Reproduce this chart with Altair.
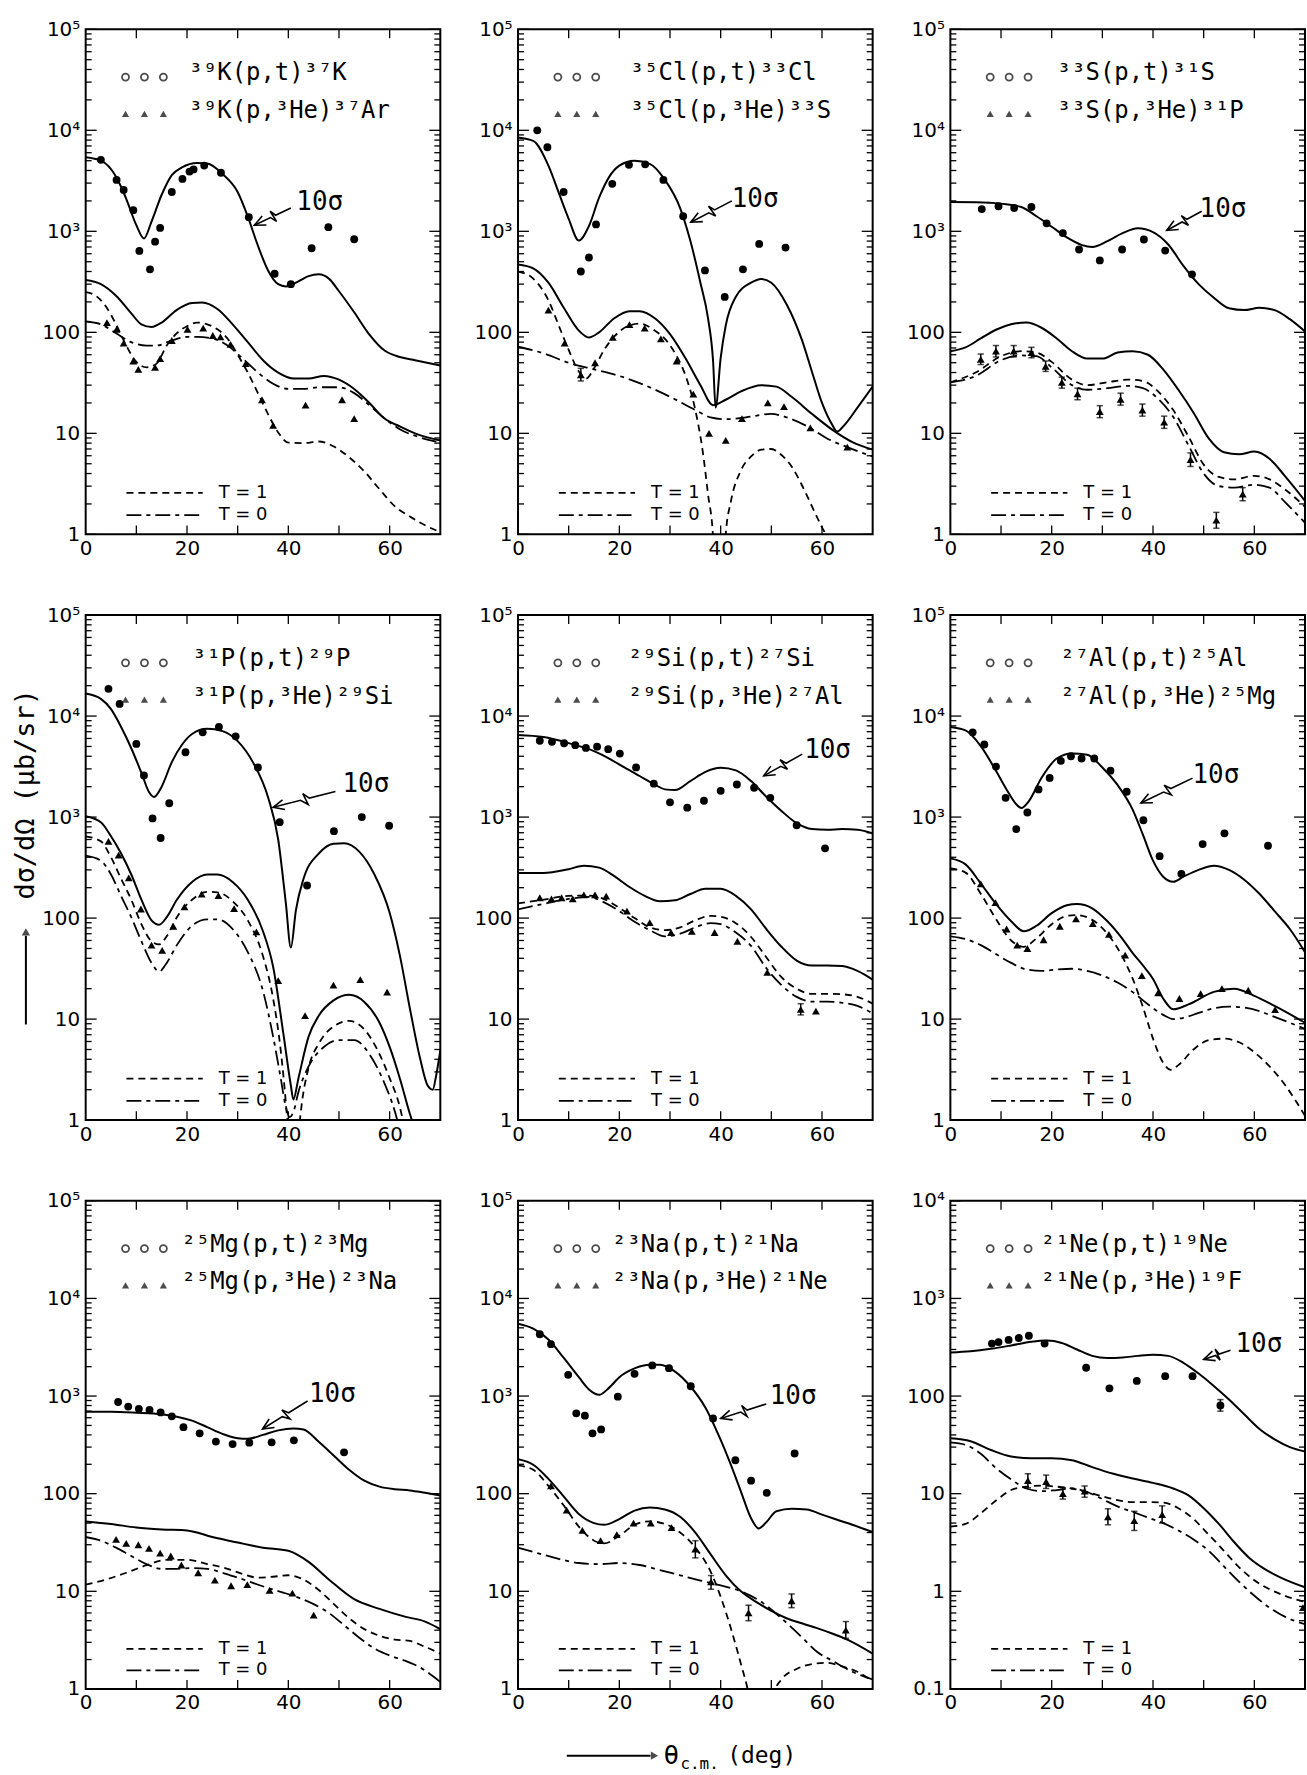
import math
import altair as alt
import pandas as pd

# ------------------------------------------------------------------ data
# each curve: list of (theta_cm [deg], dsigma/dOmega [mub/sr])

# ---- 39K
K39_SIGMA = [(0,5400),(3,5000),(6,3470),(8,2100),(10,1150),(11.5,850),(13,1250),(15,2300),(17,3600),(19,4300),(22,4750),(24,4700),(27,3700),(30,2450),(32,1400),(34,720),(36,410),(38,300),(39.5,285),(42,320),(44,360),(46,375),(48,340),(50,255),(53,158),(56,95),(59,66),(62,57),(65,53),(70,47)]
K39_TOTAL = [(0,330),(3,300),(6,230),(9,154),(11,120),(13,113),(15,125),(18,167),(21,195),(23,197),(26,170),(29,120),(32,80),(35,53),(38,40),(41,35),(44,35),(47,37),(50,34),(53,27.5),(56,20),(59,14),(62,11.7),(65,10),(70,8.5)]
K39_T1 = [(0,250),(2,230),(4,180),(6,120),(8,74),(10,51),(12,45),(14,49),(16,74),(18,98),(20,115),(22,125),(24,120),(26,107),(28,87),(30,60),(32,40),(34,25),(36,15.5),(38,10.2),(40,8.1),(43,8),(46,8.3),(49,7.4),(52,5.8),(55,4.2),(58,2.8),(61,1.9),(64,1.5),(67,1.23),(70,1.05)]
K39_T0 = [(0,128),(3,120),(6,98),(9,80),(12,74),(14,74),(17,83),(20,90),(22,90),(25,87),(28,74),(31,55),(34,40),(37,31),(40,27.5),(43,27.5),(46,28.6),(50,28.6),(53,25),(56,19),(59,14),(62,11),(66,9.1),(70,8.1)]
K39_PT = [(3,5100),(6.1,3230),(7.5,2570),(9.4,1620),(10.6,640),(12.7,420),(13.7,790),(14.7,1080),(17,2450),(19.1,3300),(20.5,3900),(21.3,4100),(23.4,4470),(26.7,3800),(32.2,1380),(37.3,380),(40.5,300),(44.6,680),(47.9,1100),(53,835)]
K39_HE = [(4.2,125),(6.1,107),(7.5,78),(9.4,52),(10.4,43),(13.7,45),(14.7,55),(17,83),(20.1,107),(23.2,110),(25.1,93),(26.6,90),(28.6,76),(31.6,49),(34.8,21.5),(37,12),(43.4,19),(50.6,21.5),(53,14)]
K39_ERR = []
K39_NOTE = [(46.2,1950),(40.5,1700),(33.3,1150)]

# ---- 35Cl
CL35_SIGMA = [(0,8500),(3,7850),(6,4470),(8,2440),(10,1330),(12,810),(14,1130),(16,2150),(18,3460),(20,4470),(23,5000),(26,4650),(29,3230),(32,1700),(34,810),(36,310),(37.5,138),(38.5,52),(39,18),(40,56),(41,117),(43,225),(46,310),(48,338),(50,310),(53,190),(56,85),(58,41),(60,20),(62,12.2),(63,10.4),(64.5,12.2),(67,18),(70,29)]
CL35_TOTAL = [(0,470),(3,430),(6,310),(9,176),(12,104),(14,89),(16,100),(19,138),(22,162),(24,162),(27,138),(30,96),(33,56),(36,30),(38.5,19),(41,21.5),(44,26),(48,30),(51,29),(54,23),(58,15.6),(62,10.9),(66,8.2),(70,6.9)]
CL35_T1 = [(0,400),(3,340),(6,208),(8,118),(10,67),(12,41),(13.5,35),(15,44),(17,67),(19,91),(22,117),(24,122),(27,104),(29,86),(31,62),(33,38),(35,17),(36.5,6.4),(37.5,2.5),(38.5,0.93),(39.5,0.05),(40.5,0.2),(41,1.0),(42,2.1),(44,4.3),(46,5.9),(48,6.9),(50,7.0),(52,6.1),(54,4.7),(56,3.1),(58,1.9),(60,1.17),(61,0.92),(62,0.5)]
CL35_T0 = [(0,72),(5,62),(10,50),(15,43),(20,37),(25,30),(30,23),(35,17),(38,14.4),(41,13.8),(45,14.4),(50,15.6),(53,14.4),(57,11.8),(61,8.9),(65,7.3),(70,5.9)]
CL35_PT = [(3.8,10000),(5.8,6800),(9,2450),(12.4,400),(14,550),(15.4,1170),(18.6,2950),(21.9,4550),(25.1,4600),(28.7,3230),(32.6,1410),(36.9,410),(40.8,224),(44.4,420),(47.6,750),(52.8,690)]
CL35_HE = [(6,166),(9.2,78),(12.4,38),(15.2,50),(18.7,89),(22,119),(25,110),(28.2,86),(31.3,52),(34.6,24.5),(37.7,10),(41,8.5),(44.2,14),(49.3,20),(52.5,18.4),(57.7,11.3),(65,7.3)]
CL35_ERR = [(12.4,33,44)]
CL35_NOTE = [(46.8,2100),(42.2,2000),(34.1,1230)]

# ---- 33S
S33_SIGMA = [(0,1950),(5,1940),(10,1880),(14,1740),(17,1410),(20,1110),(23,870),(26,730),(28,700),(31,800),(34,960),(37,1070),(40,980),(43,740),(46,455),(49,300),(52,220),(55,173),(58,166),(61,175),(64,166),(67,135),(70,102)]
S33_TOTAL = [(0,65),(3,71),(6,87),(9,106),(12,120),(15,125),(18,111),(21,87),(24,65),(27,55),(30,55),(33,63),(36,65),(39,60),(42,43),(45,27),(48,16),(51,8.9),(54,6.5),(57,6.2),(60,6.6),(63,5.6),(66,3.8),(70,2.15)]
S33_T1 = [(0,32),(5,40),(10,58),(14,65),(17,63),(20,51),(24,34),(27,30),(31,32),(35,34),(38,33),(41,26),(44,17),(47,9.3),(50,4.9),(53,3.7),(56,3.5),(60,3.8),(63,3.5),(66,2.8),(70,1.87)]
S33_T0 = [(0,32),(5,37),(10,53),(14,59),(17,58),(20,45),(24,30),(27,27),(31,28),(35,29.5),(38,28),(41,22),(44,14.5),(47,7.6),(50,4.0),(53,3.0),(56,2.9),(60,3.1),(63,2.9),(66,2.1),(70,1.3)]
S33_PT = [(6.2,1660),(9.5,1770),(12.6,1700),(16,1740),(19,1200),(22.2,960),(25.4,660),(29.5,515),(33.9,660),(38.2,830),(42.4,645),(47.7,375)]
S33_HE = [(6,54),(9,65),(12.5,65),(16,63),(18.8,46),(22,32),(25.1,24.6),(29.5,16.4),(33.6,21.7),(37.9,17),(42.2,12.9),(47.4,5.5),(52.5,1.38),(57.7,2.5)]
S33_ERR = [(6,48,61),(9,57,74),(12.5,57,74),(16,56,71),(18.8,41,52),(22,28,36),(25.1,21.5,28),(29.5,14.3,18.8),(33.6,19,25),(37.9,14.8,19.5),(42.2,11.2,14.8),(47.4,4.7,6.4),(52.5,1.15,1.65),(57.7,2.15,2.9)]
S33_NOTE = [(53.8,1660),(49.6,1580),(42.7,1020)]

# ---- 31P
P31_SIGMA = [(0,16700),(3,14800),(5,11700),(7,7800),(9,4800),(11,2740),(12.5,1770),(13.5,1580),(15,2000),(17,3500),(19,5200),(21,6650),(24,7500),(27,7100),(30,5650),(33,3500),(36,1570),(38,600),(39.5,142),(40.5,51),(41.5,120),(43,245),(46,435),(49,545),(51,550),(54,455),(57,270),(60,113),(62,43),(64,12.7),(66,4.1),(67.5,2.2),(68.5,2.0),(69.2,2.8),(70,4.9)]
P31_TOTAL = [(0,1020),(3,890),(5,645),(7,435),(9,270),(11,152),(13,95),(14.5,86),(16,102),(18,152),(21,228),(24,270),(26,270),(29,228),(32,152),(35,74),(37,33),(39,7.3),(40.5,2.2),(41,1.6),(42,2.6),(44,6.7),(46,10.8),(49,15.4),(52,17.4),(55,14.8),(58,9.2),(60,5.3),(62,2.6),(64,1.15),(65,0.8),(66,0.5)]
P31_T1 = [(0,645),(3,575),(5,400),(7,245),(9,152),(11,87),(13,59),(14.5,55),(16,66),(18,102),(21,152),(24,182),(26,180),(29,147),(32,95),(35,42),(37,16),(38.5,4.9),(39.5,1.5),(40,0.7),(41,0.05),(42,0.7),(42.5,1.25),(44,3.3),(46,5.7),(49,8.5),(52,9.6),(55,7.9),(58,4.5),(60,2.6),(62,1.35),(63,0.8),(64,0.4)]
P31_T0 = [(0,415),(3,370),(5,270),(7,165),(9,102),(11,59),(13,36),(14.5,29.5),(16,36),(18,54),(21,84),(24,97),(26,97),(29,78),(32,46),(35,19),(37,6.7),(38.5,2.6),(39.5,1.35),(40.3,1.07),(41,1.2),(42,1.9),(44,3.4),(47,5.3),(50,6.2),(53,6.2),(56,4.5),(59,2.3),(61,1.23),(62,0.8),(63,0.5)]
P31_PT = [(4.5,18600),(6.7,13200),(10,5300),(11.5,2580),(13.2,970),(14.8,620),(16.5,1370),(19.7,4380),(23.1,6900),(26.3,7800),(29.6,6300),(34,3100),(38.3,890),(43.7,210),(49,725),(54.5,1000),(59.9,820)]
P31_HE = [(4.5,575),(6.5,420),(8.5,250),(10.9,123),(13,54),(15.1,48),(17.3,83),(19.5,129),(22.9,173),(26.2,167),(29.3,124),(33.7,73),(38,24),(43.3,10.8),(48.9,21.7),(54.2,24.6),(59.5,18.5)]
P31_ERR = []
P31_NOTE = [(55.3,2140),(49.3,1790),(37.0,1250)]

# ---- 29Si
SI29_SIGMA = [(0,6500),(5,6200),(10,5400),(15,4500),(18,3800),(21,3100),(24,2550),(27,2100),(29,1880),(31,1850),(34,2270),(37,2800),(40,3070),(43,2900),(46,2270),(49,1590),(52,1150),(55,870),(58,760),(61,750),(64,760),(67,750),(70,690)]
SI29_TOTAL = [(0,280),(5,280),(10,305),(13,330),(16,316),(19,260),(22,203),(25,166),(28,147),(31,150),(34,173),(37,195),(40,195),(43,166),(46,122),(49,78),(52,52),(55,38),(58,34),(61,34),(64,33.5),(67,30),(70,24.6)]
SI29_T1 = [(0,140),(5,152),(10,166),(14,167),(17,154),(20,126),(23,100),(26,81),(29,76),(32,81),(35,95),(38,105),(40,103),(43,89),(46,65),(49,41),(52,26),(55,20),(58,17.8),(61,17.8),(64,17.6),(67,16.6),(70,14.2)]
SI29_T0 = [(0,122),(5,138),(10,155),(14,162),(17,143),(20,117),(23,92),(26,76),(29,66),(32,70),(35,81),(38,89),(40,87),(43,72),(46,53),(49,32),(52,21.7),(55,16.6),(58,14.9),(61,14.9),(64,14.5),(67,13.5),(70,11.4)]
SI29_PT = [(4.3,5700),(6.7,5560),(9.1,5380),(11.3,5150),(13.4,4840),(15.6,4980),(17.8,4700),(20.1,4250),(23.3,3100),(26.8,2140),(30,1400),(33.4,1240),(36.7,1450),(40,1820),(43.2,2100),(46.6,1950),(49.8,1550),(55,830),(60.6,490)]
SI29_HE = [(4.3,159),(6.6,155),(8.6,159),(10.8,155),(13,170),(15.2,170),(17.4,165),(21.5,117),(26,90),(30.2,72),(34.3,74),(38.8,72),(43.3,59),(49.2,29),(55.8,12.5),(58.8,12)]
SI29_ERR = [(55.8,11,14.2)]
SI29_NOTE = [(61.1,4650),(56.1,4200),(48.5,2560)]

# ---- 27Al
AL27_SIGMA = [(0,7800),(3,7200),(6,5040),(9,2870),(11,1910),(13,1340),(14,1230),(15.5,1440),(18,2450),(21,3800),(24,4270),(27,4140),(30,3100),(33,2080),(36,1180),(38,670),(40,370),(42,257),(44,229),(46,257),(49,300),(52,330),(55,300),(58,240),(61,174),(64,117),(67,78),(70,46)]
AL27_TOTAL = [(0,390),(3,340),(6,220),(9,138),(12,93),(14.5,74),(17,84),(20,112),(23,134),(25,138),(28,125),(31,93),(34,62),(36,45),(38,34),(40,25),(42,16),(44,12.5),(47,14),(52,18.6),(56,20),(60,17),(64,13.5),(70,9.2)]
AL27_T1 = [(0,310),(3,282),(6,174),(9,98),(12,60),(14.5,52),(17,63),(20,87),(23,105),(25,107),(28,96),(31,70),(34,41),(36,25),(38,13.2),(40,6.4),(42,3.7),(43.5,3.15),(45,3.5),(48,5.0),(51,6.2),(54,6.4),(57,5.9),(60,4.7),(63,3.4),(66,2.25),(68,1.6),(70,1.1)]
AL27_T0 = [(0,66),(3,62),(6,54),(9,44),(12,36),(15,31),(18,30),(21,31),(24,31.5),(27,30),(30,27),(33,23),(36,18.5),(39,14),(42,11),(44,10),(46,10.3),(49,11.5),(52,12.8),(55,13.3),(58,13),(61,12),(64,10.5),(67,9.2),(70,8)]
AL27_PT = [(4.4,6900),(6.7,5230),(9,3160),(10.9,1550),(13,760),(15.2,1110),(17.4,1880),(19.6,2440),(21.8,3600),(23.8,4000),(25.9,3800),(28.4,3800),(31.6,2880),(34.8,1780),(38.1,930),(41.3,410),(45.6,274),(49.8,540),(54.1,690),(62.7,520)]
AL27_HE = [(6,218),(8.9,142),(11.1,78),(13.2,54),(15.2,50),(18.4,61),(21.6,83),(24.8,98),(28.1,88),(31.3,69),(34.5,43),(37.8,27),(41,18.2),(45.2,16),(49.4,17.9),(53.6,20),(58.8,19.3),(64.1,12.4)]
AL27_ERR = []
AL27_NOTE = [(52.4,2620),(47.8,2430),(37.6,1380)]

# ---- 25Mg
MG25_SIGMA = [(0,690),(5,690),(10,675),(15,650),(18,615),(21,560),(24,480),(27,410),(30,370),(32,365),(35,400),(38,445),(41,465),(43,455),(46,340),(49,245),(52,176),(55,136),(58,118),(61,111),(64,108),(67,102),(70,96)]
MG25_TOTAL = [(0,52),(5,49),(10,45),(15,43),(20,42),(25,36),(30,31.6),(35,28),(40,26),(44,20),(48,13.2),(53,8.3),(58,6.6),(63,5.5),(67,4.9),(70,4.1)]
MG25_T1 = [(0,11.7),(4,13.2),(8,15.5),(12,18.5),(16,21),(20,21),(24,19),(28,17),(31,15),(34,13.8),(37,14.1),(40,14.6),(43,13.2),(46,10.3),(49,7.4),(52,5.3),(55,4.1),(58,3.5),(61,3.2),(64,3.1),(67,2.7),(70,2.3)]
MG25_T0 = [(0,36),(3,33),(6,28),(9,23),(12,19),(15,17),(18,17),(21,17.3),(24,17),(27,15.5),(30,13.8),(33,12.2),(36,10.8),(39,9.7),(42,8.6),(45,7.4),(48,6.0),(51,4.5),(54,3.35),(57,2.6),(60,2.2),(63,1.95),(66,1.66),(70,1.18)]
MG25_PT = [(6.4,870),(8.4,780),(10.5,740),(12.6,720),(14.8,680),(17,620),(19.3,480),(22.5,415),(25.7,342),(29,322),(32.3,333),(36.7,336),(41.1,352),(51,265)]
MG25_HE = [(6,34),(8,31),(10.4,30),(12.5,27.5),(14.7,24.6),(16.8,23),(18.9,18.6),(22.2,15.5),(25.5,13),(28.7,11.4),(31.9,11.7),(36.3,10.2),(40.8,9.6),(45,5.7)]
MG25_ERR = []
MG25_NOTE = [(48.7,1050),(43.8,890),(34.9,460)]

# ---- 23Na
NA23_SIGMA = [(0,5500),(3,4900),(6,3800),(9,2470),(12,1560),(14,1170),(16,1030),(18,1220),(20,1560),(23,1920),(26,2090),(28,2090),(31,1780),(34,1260),(37,760),(40,355),(42,198),(44,105),(46,56),(47.5,44),(49,51),(51,66),(54,70),(57,69),(60,61),(63,54),(66,48),(70,40.5)]
NA23_TOTAL = [(0,225),(3,198),(6,142),(9,94),(12,62),(15,50),(17,48),(20,55),(23,67),(26,72),(29,69),(32,58),(35,40),(38,24),(41,14.6),(44,10),(47,7.8),(50,6.3),(53,5.3),(56,4.7),(59,4.2),(62,3.7),(65,3.2),(70,2.3)]
NA23_T1 = [(0,195),(3,176),(6,120),(9,76),(12,46),(15,33),(17,31),(20,37),(23,48),(26,52),(29,49),(32,40),(35,28),(38,16),(40,8.8),(42,4.2),(44,1.8),(45.5,0.9),(47,0.3),(48,0.08),(49,0.3),(50.5,0.9),(52,1.25),(55,1.6),(58,1.8),(61,1.85),(64,1.7),(67,1.5),(70,1.2)]
NA23_T0 = [(0,28),(4,24.5),(8,21.5),(12,19.5),(16,19),(20,19.5),(24,18.6),(28,16.5),(32,14.6),(36,12.9),(40,11.5),(44,10),(48,7.8),(52,5.3),(56,3.4),(59,2.4),(62,1.95),(66,1.5),(70,1.25)]
NA23_PT = [(4.3,4300),(6.5,3400),(9.9,1650),(11.5,665),(13.2,630),(14.7,415),(16.4,455),(19.7,985),(23,1690),(26.5,2060),(29.8,1930),(34.1,1260),(38.5,590),(42.9,220),(46,136),(49.1,102),(54.6,258)]
NA23_HE = [(6.5,120),(9.6,68),(12.7,42),(16.3,33),(19.5,38),(22.8,50),(26.2,50),(30.3,45),(35,27),(38.1,12.5),(45.5,6),(54,8),(64.7,4)]
NA23_ERR = [(35,22,33),(38.1,10.5,14.5),(45.5,5,7.2),(54,6.8,9.4),(64.7,3.3,4.9)]
NA23_NOTE = [(54.3,1000),(49,830),(40,590)]

# ---- 21Ne
NE21_SIGMA = [(0,280),(4,288),(8,305),(12,330),(16,360),(19,370),(22,350),(25,300),(28,258),(31,245),(34,248),(37,258),(40,265),(43,258),(46,219),(49,170),(52,127),(55,92),(58,65),(61,46),(64,36),(67,30),(70,27)]
NE21_TOTAL = [(0,37),(4,34.5),(8,28),(12,24),(16,23),(20,23),(24,22),(28,18.7),(32,16.1),(36,14.3),(40,12.9),(44,11.3),(47,9.6),(50,7.1),(53,4.9),(56,3.2),(59,2.2),(62,1.7),(65,1.4),(70,1.1)]
NE21_T1 = [(0,4.6),(3,4.9),(6,6.3),(9,8.5),(12,10.9),(15,11.8),(18,12.1),(21,11.8),(24,11.3),(27,10.4),(30,9.4),(33,8.6),(36,8.2),(39,8.2),(42,8.1),(45,7.1),(48,5.5),(51,3.8),(54,2.6),(57,1.76),(60,1.3),(63,1.05),(66,0.9),(70,0.78)]
NE21_T0 = [(0,33.5),(3,31.6),(6,25.7),(9,18.3),(12,14),(15,11.3),(18,10.6),(21,10.9),(24,11.3),(27,10.4),(30,8.8),(33,7.4),(36,6.5),(39,5.7),(42,5.0),(45,4.2),(48,3.4),(51,2.6),(54,1.8),(57,1.25),(60,0.9),(63,0.68),(66,0.55),(70,0.46)]
NE21_PT = [(8.2,345),(9.5,357),(11.5,376),(13.5,393),(15.5,415),(18.6,345),(26.8,195),(31.4,120),(36.8,143),(42.4,160),(47.8,160),(53.3,80)]
NE21_HE = [(15.3,13.6),(18.9,13.3),(22.2,10),(26.5,10.6),(31.1,5.8),(36.3,5.3),(41.8,6.1),(69.6,0.68)]
NE21_ERR = [(15.3,11.5,16),(18.9,11.3,15.5),(22.2,8.8,11.5),(26.5,9.2,12),(31.1,4.8,7),(36.3,4.2,6.6),(41.8,5,7.5),(53.3,70,92)]
NE21_NOTE = [(60.9,345),(55.3,295),(50,237)]

LABELS_PT = ["³⁹K(p,t)³⁷K", "³⁵Cl(p,t)³³Cl", "³³S(p,t)³¹S",
             "³¹P(p,t)²⁹P", "²⁹Si(p,t)²⁷Si", "²⁷Al(p,t)²⁵Al",
             "²⁵Mg(p,t)²³Mg", "²³Na(p,t)²¹Na", "²¹Ne(p,t)¹⁹Ne"]
LABELS_HE = ["³⁹K(p,³He)³⁷Ar", "³⁵Cl(p,³He)³³S", "³³S(p,³He)³¹P",
             "³¹P(p,³He)²⁹Si", "²⁹Si(p,³He)²⁷Al", "²⁷Al(p,³He)²⁵Mg",
             "²⁵Mg(p,³He)²³Na", "²³Na(p,³He)²¹Ne", "²¹Ne(p,³He)¹⁹F"]
Y_LIMITS = [(1, 1e5)] * 8 + [(0.1, 1e4)]

PANELS = [
    (K39_SIGMA, K39_TOTAL, K39_T1, K39_T0, K39_PT, K39_HE, K39_ERR, K39_NOTE),
    (CL35_SIGMA, CL35_TOTAL, CL35_T1, CL35_T0, CL35_PT, CL35_HE, CL35_ERR, CL35_NOTE),
    (S33_SIGMA, S33_TOTAL, S33_T1, S33_T0, S33_PT, S33_HE, S33_ERR, S33_NOTE),
    (P31_SIGMA, P31_TOTAL, P31_T1, P31_T0, P31_PT, P31_HE, P31_ERR, P31_NOTE),
    (SI29_SIGMA, SI29_TOTAL, SI29_T1, SI29_T0, SI29_PT, SI29_HE, SI29_ERR, SI29_NOTE),
    (AL27_SIGMA, AL27_TOTAL, AL27_T1, AL27_T0, AL27_PT, AL27_HE, AL27_ERR, AL27_NOTE),
    (MG25_SIGMA, MG25_TOTAL, MG25_T1, MG25_T0, MG25_PT, MG25_HE, MG25_ERR, MG25_NOTE),
    (NA23_SIGMA, NA23_TOTAL, NA23_T1, NA23_T0, NA23_PT, NA23_HE, NA23_ERR, NA23_NOTE),
    (NE21_SIGMA, NE21_TOTAL, NE21_T1, NE21_T0, NE21_PT, NE21_HE, NE21_ERR, NE21_NOTE),
]

# ------------------------------------------------------------------ layout / style
W = 356
ROW_H = [507, 507, 490]
EXT = 75
LEG_TEXT_X = [0.29, 0.315, 0.30, 0.30, 0.31, 0.31, 0.27, 0.265, 0.255]
AX_FONT = "DejaVu Sans"
LET_FONT = "DejaVu Sans Mono"
INK = "black"
LABEL_EXPR = ("datum.value >= 99999 ? '10⁵' : datum.value >= 9999 ? '10⁴' : "
              "datum.value >= 999 ? '10³' : datum.value >= 0.99 ? format(datum.value, 'd') : '0.1'")


def df_xy(pts, name="c"):
    return pd.DataFrame({"x": [a for a, _ in pts], "y": [b for _, b in pts], "c": name})


def panel_chart(i):
    sigma, total, t1, t0, pt, he, err, note = PANELS[i]
    row = i // 3
    h = ROW_H[row]
    lo, hi = Y_LIMITS[i]
    llo, lhi = math.log10(lo), math.log10(hi)
    xs = alt.Scale(domain=[0, 70], nice=False, zero=False)
    ys = alt.Scale(type="log", domain=[lo, hi], nice=False)
    dlo, dhi = round(llo), round(lhi)
    decades = [10.0 ** d for d in range(dlo, dhi + 1)]
    minors = [k * 10.0 ** d for d in range(dlo, dhi) for k in range(2, 10)]
    yax = alt.Axis(values=decades, labelExpr=LABEL_EXPR, ticks=False, domain=False, grid=False,
                   labelFont=AX_FONT, labelFontSize=20, labelColor=INK, labelPadding=6,
                   minExtent=EXT, maxExtent=EXT, title=None)
    xax = alt.Axis(values=[0, 20, 40, 60], format="d", ticks=False, domain=False, grid=False,
                   labelFont=AX_FONT, labelFontSize=20, labelColor=INK, labelPadding=4,
                   title=None, labelFlush=False)

    def X(f):
        return alt.X(f"{f}:Q", scale=xs, axis=xax)

    def Y(f):
        return alt.Y(f"{f}:Q", scale=ys, axis=yax)

    def px(x):
        return x / 70.0 * W

    def py(v):
        return h * (lhi - math.log10(v)) / (lhi - llo)

    def inv(p):
        return (p[0] / W * 70.0, 10 ** (lhi - p[1] / h * (lhi - llo)))

    layers = []
    # inward ticks
    for vals, ln in ((decades, 11), (minors, 6)):
        d = pd.DataFrame({"v": vals})
        layers.append(alt.Chart(d).mark_rule(color=INK, strokeWidth=1.3).encode(
            y=Y("v"), x=alt.value(0), x2=alt.value(ln)))
        layers.append(alt.Chart(d).mark_rule(color=INK, strokeWidth=1.3).encode(
            y=Y("v"), x=alt.value(W), x2=alt.value(W - ln)))
    dx = pd.DataFrame({"v": [10, 20, 30, 40, 50, 60]})
    layers.append(alt.Chart(dx).mark_rule(color=INK, strokeWidth=1.3).encode(
        x=X("v"), y=alt.value(h), y2=alt.value(h - 9)))
    layers.append(alt.Chart(dx).mark_rule(color=INK, strokeWidth=1.3).encode(
        x=X("v"), y=alt.value(0), y2=alt.value(9)))

    # curves
    solid = pd.concat([df_xy(sigma, "sigma"), df_xy(total, "total")], ignore_index=True)
    layers.append(alt.Chart(solid).mark_line(color=INK, strokeWidth=2, interpolate="monotone", clip=True)
                  .encode(x=X("x"), y=Y("y"), detail="c:N"))
    layers.append(alt.Chart(df_xy(t1)).mark_line(color=INK, strokeWidth=1.8, strokeDash=[7, 5],
                                                 interpolate="monotone", clip=True)
                  .encode(x=X("x"), y=Y("y")))
    layers.append(alt.Chart(df_xy(t0)).mark_line(color=INK, strokeWidth=1.8, strokeDash=[15, 5, 4, 5],
                                                 interpolate="monotone", clip=True)
                  .encode(x=X("x"), y=Y("y")))

    # error bars
    if err:
        de = pd.DataFrame({"x": [e[0] for e in err], "lo": [e[1] for e in err], "hi": [e[2] for e in err]})
        layers.append(alt.Chart(de).mark_rule(color=INK, strokeWidth=1.5, clip=True).encode(
            x=X("x"), y=Y("lo"), y2="hi:Q"))
        dcap = pd.DataFrame({"x": list(de["x"]) * 2, "v": list(de["lo"]) + list(de["hi"])})
        layers.append(alt.Chart(dcap).mark_point(shape="stroke", size=40, color=INK, strokeWidth=1.5,
                                                 clip=True).encode(x=X("x"), y=Y("v")))

    # data points
    layers.append(alt.Chart(df_xy(pt)).mark_point(shape="circle", filled=True, size=62, color=INK,
                                                  opacity=1, clip=True).encode(x=X("x"), y=Y("y")))
    layers.append(alt.Chart(df_xy(he)).mark_point(shape="triangle-up", filled=True, size=62, color=INK,
                                                  opacity=1, clip=True).encode(x=X("x"), y=Y("y")))

    # "10 sigma" note with squiggly arrow
    (tx, ty), tail, head = note
    layers.append(alt.Chart(pd.DataFrame({"x": [tx], "y": [ty], "t": ["10σ"]})).mark_text(
        font=LET_FONT, fontSize=26, align="center", baseline="middle", color=INK).encode(
        x=X("x"), y=Y("y"), text="t:N"))
    x0, y0 = px(tail[0]), py(tail[1])
    x1, y1 = px(head[0]), py(head[1])
    ddx, ddy = x1 - x0, y1 - y0
    L = math.hypot(ddx, ddy)
    ux, uy = ddx / L, ddy / L
    nx, ny = -uy, ux

    def at(f, n=0.0):
        return (x0 + ddx * f + nx * n, y0 + ddy * f + ny * n)

    path = [at(0), at(0.42), at(0.50, 6), at(0.46, -6), at(0.56), at(1)]
    headpts = [(x1 - ux * 11 + nx * 5, y1 - uy * 11 + ny * 5), (x1, y1),
               (x1 - ux * 11 - nx * 5, y1 - uy * 11 - ny * 5)]
    rows = []
    for k, p in enumerate(path):
        dxv, dyv = inv(p)
        rows.append({"x": dxv, "y": dyv, "o": k, "s": "a"})
    for k, p in enumerate(headpts):
        dxv, dyv = inv(p)
        rows.append({"x": dxv, "y": dyv, "o": k, "s": "b"})
    layers.append(alt.Chart(pd.DataFrame(rows)).mark_line(color=INK, strokeWidth=1.6, clip=False).encode(
        x=X("x"), y=Y("y"), order="o:Q", detail="s:N"))

    # legend (symbols + reaction names)
    sym = pd.DataFrame({"px": [40, 59, 78]})
    layers.append(alt.Chart(sym).mark_point(shape="circle", filled=False, size=50, color=INK, strokeWidth=1.8)
                  .encode(x=alt.X("px:Q", scale=None, axis=None), y=alt.value(48)))
    layers.append(alt.Chart(sym).mark_point(shape="triangle-up", filled=True, size=52, color=INK)
                  .encode(x=alt.X("px:Q", scale=None, axis=None), y=alt.value(85)))
    lx = LEG_TEXT_X[i] * W
    for txt, yy in ((LABELS_PT[i], 44), (LABELS_HE[i], 82)):
        layers.append(alt.Chart(pd.DataFrame({"t": [txt]})).mark_text(
            font=LET_FONT, fontSize=24, align="left", baseline="middle", color=INK).encode(
            x=alt.value(lx), y=alt.value(yy), text="t:N"))

    # T = 1 / T = 0 key
    y1k, y0k = 0.918 * h, 0.962 * h
    layers.append(alt.Chart(pd.DataFrame({"t": ["T = 1"]})).mark_rule(
        color=INK, strokeWidth=1.8, strokeDash=[7, 5]).encode(
        x=alt.value(0.115 * W), x2=alt.value(0.33 * W), y=alt.value(y1k)))
    layers.append(alt.Chart(pd.DataFrame({"t": ["T = 0"]})).mark_rule(
        color=INK, strokeWidth=1.8, strokeDash=[15, 5, 4, 5]).encode(
        x=alt.value(0.115 * W), x2=alt.value(0.33 * W), y=alt.value(y0k)))
    for txt, yy in (("T = 1", y1k), ("T = 0", y0k)):
        layers.append(alt.Chart(pd.DataFrame({"t": [txt]})).mark_text(
            font=AX_FONT, fontSize=18, align="left", baseline="middle", color=INK).encode(
            x=alt.value(0.375 * W), y=alt.value(yy), text="t:N"))

    # shared axis titles
    if i == 3:
        layers.append(alt.Chart(pd.DataFrame({"t": ["dσ/dΩ  (μb/sr)"]})).mark_text(
            font=LET_FONT, fontSize=27, angle=270, align="center", baseline="middle", color=INK).encode(
            x=alt.value(-60), y=alt.value(180), text="t:N"))
        layers.append(alt.Chart(pd.DataFrame({"t": ["arrow"]})).mark_rule(color=INK, strokeWidth=2).encode(
            x=alt.value(-60), y=alt.value(411), y2=alt.value(322)))
        layers.append(alt.Chart(pd.DataFrame({"t": ["head"]})).mark_point(
            shape="triangle-up", filled=True, size=70, color=INK).encode(
            x=alt.value(-60), y=alt.value(318)))
    if i == 7:
        yy = 557
        layers.append(alt.Chart(pd.DataFrame({"t": ["arrow"]})).mark_rule(color=INK, strokeWidth=2).encode(
            x=alt.value(49), x2=alt.value(133), y=alt.value(yy)))
        layers.append(alt.Chart(pd.DataFrame({"t": ["head"]})).mark_point(
            shape="triangle-right", filled=True, size=70, color=INK).encode(
            x=alt.value(137), y=alt.value(yy)))
        for txt, xx, fs, dy in (("θ", 146, 26, 0), ("c.m.", 163, 16, 8), ("(deg)", 210, 23, 0)):
            layers.append(alt.Chart(pd.DataFrame({"t": [txt]})).mark_text(
                font=LET_FONT, fontSize=fs, align="left", baseline="middle", color=INK).encode(
                x=alt.value(xx), y=alt.value(yy + dy), text="t:N"))

    return alt.layer(*layers).properties(width=W, height=h)


charts = [panel_chart(i) for i in range(9)]
chart = alt.concat(*charts, columns=3, spacing={"row": 45, "column": 0}).properties(
    padding={"left": 10, "top": 15, "right": 0, "bottom": 0},
    background="white",
).configure_view(stroke=INK, strokeWidth=2)

chart.save("out.html", embed_options={"renderer": "svg", "actions": False})
